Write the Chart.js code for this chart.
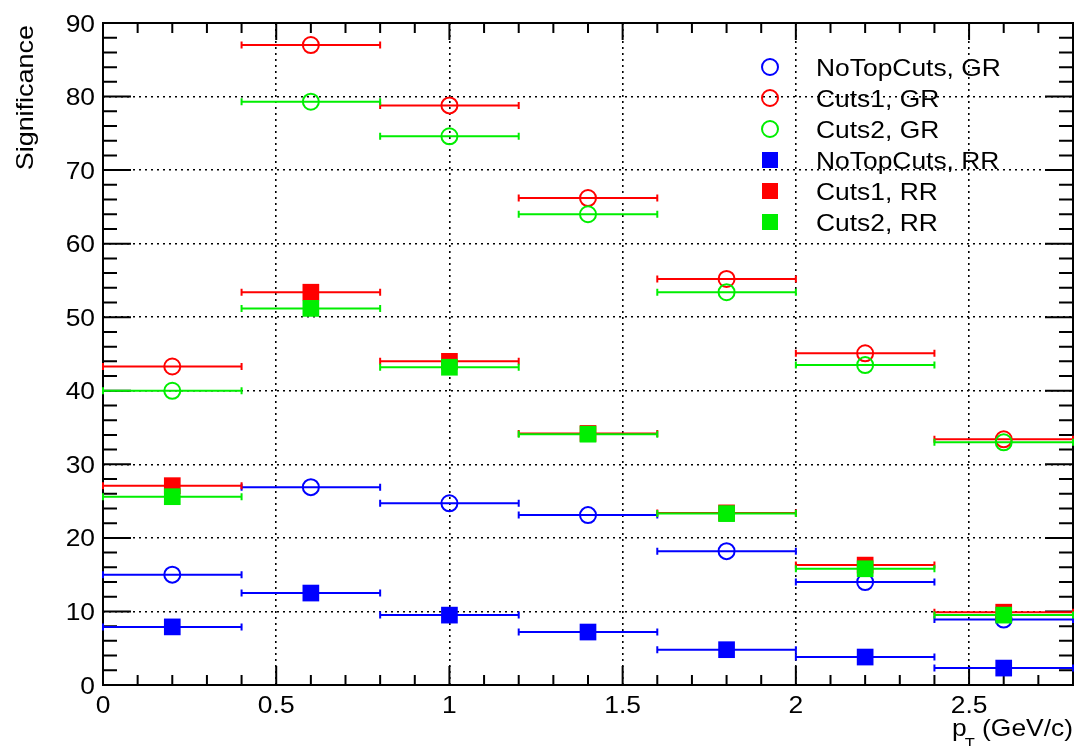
<!DOCTYPE html>
<html>
<head>
<meta charset="utf-8">
<script src="https://cdn.jsdelivr.net/npm/chart.js@4.4.1/dist/chart.umd.min.js"></script>
<style>
  html, body { margin: 0; padding: 0; background: #fff; }
  canvas { display: block; }
</style>
</head>
<body>
<canvas id="sigChart" width="1076" height="746"></canvas>
<script>
// pT bin centres and half-widths
const ptCenters = [0.2, 0.6, 1.0, 1.4, 1.8, 2.2, 2.6];
const ptHalfWidth = [0.2, 0.2, 0.2, 0.2, 0.2, 0.2, 0.2];

// significance per bin
const noTopCutsGR = [15.0, 26.9, 24.7, 23.1, 18.2, 14.0, 8.9];
const cuts1GR     = [43.3, 87.0, 78.8, 66.2, 55.2, 45.1, 33.4];
const cuts2GR     = [40.0, 79.3, 74.6, 64.0, 53.4, 43.5, 33.0];
const noTopCutsRR = [7.9, 12.5, 9.5, 7.2, 4.8, 3.8, 2.3];
const cuts1RR     = [27.1, 53.4, 44.0, 34.2, 23.4, 16.3, 9.9];
const cuts2RR     = [25.6, 51.2, 43.2, 34.1, 23.3, 15.8, 9.5];

const seriesLabels = ['NoTopCuts, GR', 'Cuts1, GR', 'Cuts2, GR', 'NoTopCuts, RR', 'Cuts1, RR', 'Cuts2, RR'];

// axis ticks
const xTickValues = [0, 0.5, 1, 1.5, 2, 2.5];
const xTickLabels = ['0', '0.5', '1', '1.5', '2', '2.5'];
const yTickValues = [0, 10, 20, 30, 40, 50, 60, 70, 80, 90];
const yTickLabels = ['0', '10', '20', '30', '40', '50', '60', '70', '80', '90'];

const BLUE = '#0000ff', RED = '#ff0000', GREEN = '#00ee00';
const FONT = '"Liberation Sans", Arial, Helvetica, sans-serif';
const STRETCH = 1.1;   // text is a little wider than plain Liberation Sans

function toPoints(vals) {
    return ptCenters.map((x, i) => ({ x: x, y: vals[i], xErr: ptHalfWidth[i] }));
}

function openSeries(label, vals, color, n) {
    return {
        label: label, data: toPoints(vals), order: 6 - n,
        pointStyle: 'circle', pointRadius: 8, pointHoverRadius: 8,
        borderColor: color, backgroundColor: 'rgba(0,0,0,0)', borderWidth: 2,
        showLine: false
    };
}
function fullSeries(label, vals, color, n) {
    return {
        label: label, data: toPoints(vals), order: 6 - n,
        pointStyle: 'rect', pointRadius: 11.8, pointHoverRadius: 11.8,
        borderColor: color, backgroundColor: color, borderWidth: 0,
        showLine: false
    };
}

// text drawn slightly wide; (x, y) is the anchor at the baseline
function wideText(ctx, str, x, y, size, align) {
    ctx.save();
    ctx.font = size + 'px ' + FONT;
    ctx.textBaseline = 'alphabetic';
    const w = ctx.measureText(str).width * STRETCH;
    let x0 = x;
    if (align === 'center') x0 = x - w / 2;
    else if (align === 'right') x0 = x - w;
    ctx.translate(x0, y);
    ctx.scale(STRETCH, 1);
    ctx.textAlign = 'left';
    ctx.fillText(str, 0, 0);
    ctx.restore();
    return w;
}

// horizontal bin-width bars, drawn just before each graph's markers
const errorBars = {
    id: 'errorBars',
    beforeDatasetDraw(chart, args) {
        const ds = chart.data.datasets[args.index];
        const xs = chart.scales.x, ys = chart.scales.y;
        const ctx = chart.ctx;
        ctx.save();
        ctx.strokeStyle = ds.borderColor;
        ctx.lineWidth = 2;
        ds.data.forEach(p => {
            const x0 = xs.getPixelForValue(p.x - p.xErr);
            const x1 = xs.getPixelForValue(p.x + p.xErr);
            const y = ys.getPixelForValue(p.y);
            ctx.beginPath();
            ctx.moveTo(x0, y); ctx.lineTo(x1, y);
            ctx.moveTo(x0, y - 3.5); ctx.lineTo(x0, y + 3.5);
            ctx.moveTo(x1, y - 3.5); ctx.lineTo(x1, y + 3.5);
            ctx.stroke();
        });
        ctx.restore();
    }
};

// frame with inward ticks, axis labels, titles and legend
const frame = {
    id: 'frame',
    beforeDatasetsDraw(chart) {
        const { ctx, chartArea: a, scales: { x, y } } = chart;
        ctx.save();
        ctx.strokeStyle = '#000';
        ctx.lineWidth = 2;
        ctx.strokeRect(a.left, a.top, a.right - a.left, a.bottom - a.top);
        ctx.beginPath();
        for (let i = 0; i <= 28; i++) {
            const px = x.getPixelForValue(i * 0.1);
            const major = i % 5 === 0;
            ctx.moveTo(px, a.bottom); ctx.lineTo(px, a.bottom - (major ? 19 : 10));
            ctx.moveTo(px, a.top); ctx.lineTo(px, a.top + (major ? 17 : 10));
        }
        for (let i = 0; i <= 45; i++) {
            const py = y.getPixelForValue(i * 2);
            const len = (i % 5 === 0) ? 28 : 14;
            ctx.moveTo(a.left, py); ctx.lineTo(a.left + len, py);
            ctx.moveTo(a.right, py); ctx.lineTo(a.right - len, py);
        }
        ctx.stroke();
        ctx.restore();
    },
    afterDraw(chart) {
        const { ctx, chartArea: a, scales: { x, y } } = chart;
        ctx.fillStyle = '#000';

        // tick labels
        xTickValues.forEach((v, i) => {
            wideText(ctx, xTickLabels[i], x.getPixelForValue(v), a.bottom + 28, 24, 'center');
        });
        yTickValues.forEach((v, i) => {
            wideText(ctx, yTickLabels[i], a.left - 8, y.getPixelForValue(v) + 8.5, 24, 'right');
        });

        // y title, reading upwards, flush with the top of the frame
        ctx.save();
        ctx.translate(33, a.top + 2);
        ctx.rotate(-Math.PI / 2);
        wideText(ctx, 'Significance', 0, 0, 24.5, 'right');
        ctx.restore();

        // x title: p_T (GeV/c)
        const restW = wideText(ctx, ' (GeV/c)', a.right, 736, 24, 'right');
        ctx.font = '15px ' + FONT;
        const tW = ctx.measureText('T').width * STRETCH;
        wideText(ctx, 'T', a.right - restW, 748, 15, 'right');
        wideText(ctx, 'p', a.right - restW - tW + 2, 736, 24, 'right');

        // legend
        const rows = [67, 98, 129, 160, 191, 222];
        chart.data.datasets.forEach((ds, i) => {
            const cy = rows[i], cx = 770;
            ctx.save();
            if (ds.pointStyle === 'circle') {
                ctx.strokeStyle = ds.borderColor;
                ctx.lineWidth = 2;
                ctx.beginPath();
                ctx.arc(cx, cy, 8, 0, Math.PI * 2);
                ctx.stroke();
            } else {
                ctx.fillStyle = ds.backgroundColor;
                ctx.fillRect(cx - 8, cy - 8, 16, 16);
            }
            ctx.restore();
            ctx.fillStyle = '#000';
            wideText(ctx, ds.label, 816, cy + 9, 24, 'left');
        });
    }
};

new Chart(document.getElementById('sigChart'), {
    type: 'scatter',
    data: {
        datasets: [
            openSeries(seriesLabels[0], noTopCutsGR, BLUE, 0),
            openSeries(seriesLabels[1], cuts1GR, RED, 1),
            openSeries(seriesLabels[2], cuts2GR, GREEN, 2),
            fullSeries(seriesLabels[3], noTopCutsRR, BLUE, 3),
            fullSeries(seriesLabels[4], cuts1RR, RED, 4),
            fullSeries(seriesLabels[5], cuts2RR, GREEN, 5)
        ]
    },
    options: {
        responsive: false,
        animation: false,
        events: [],
        layout: { autoPadding: false, padding: { top: 23, right: 3, left: 0, bottom: 0 } },
        plugins: { legend: { display: false }, tooltip: { enabled: false } },
        scales: {
            x: {
                type: 'linear', min: 0, max: 2.8,
                afterBuildTicks: s => { s.ticks = xTickValues.map(v => ({ value: v })); },
                afterFit: s => { s.height = 61; },
                border: { display: false, dash: [2, 4] },
                grid: { drawTicks: false, color: '#000', lineWidth: 1.6 },
                ticks: { display: false }
            },
            y: {
                type: 'linear', min: 0, max: 90,
                afterBuildTicks: s => { s.ticks = yTickValues.map(v => ({ value: v })); },
                afterFit: s => { s.width = 103; },
                border: { display: false, dash: [2, 4] },
                grid: { drawTicks: false, color: '#000', lineWidth: 1.6 },
                ticks: { display: false }
            }
        }
    },
    plugins: [errorBars, frame]
});
</script>
</body>
</html>
